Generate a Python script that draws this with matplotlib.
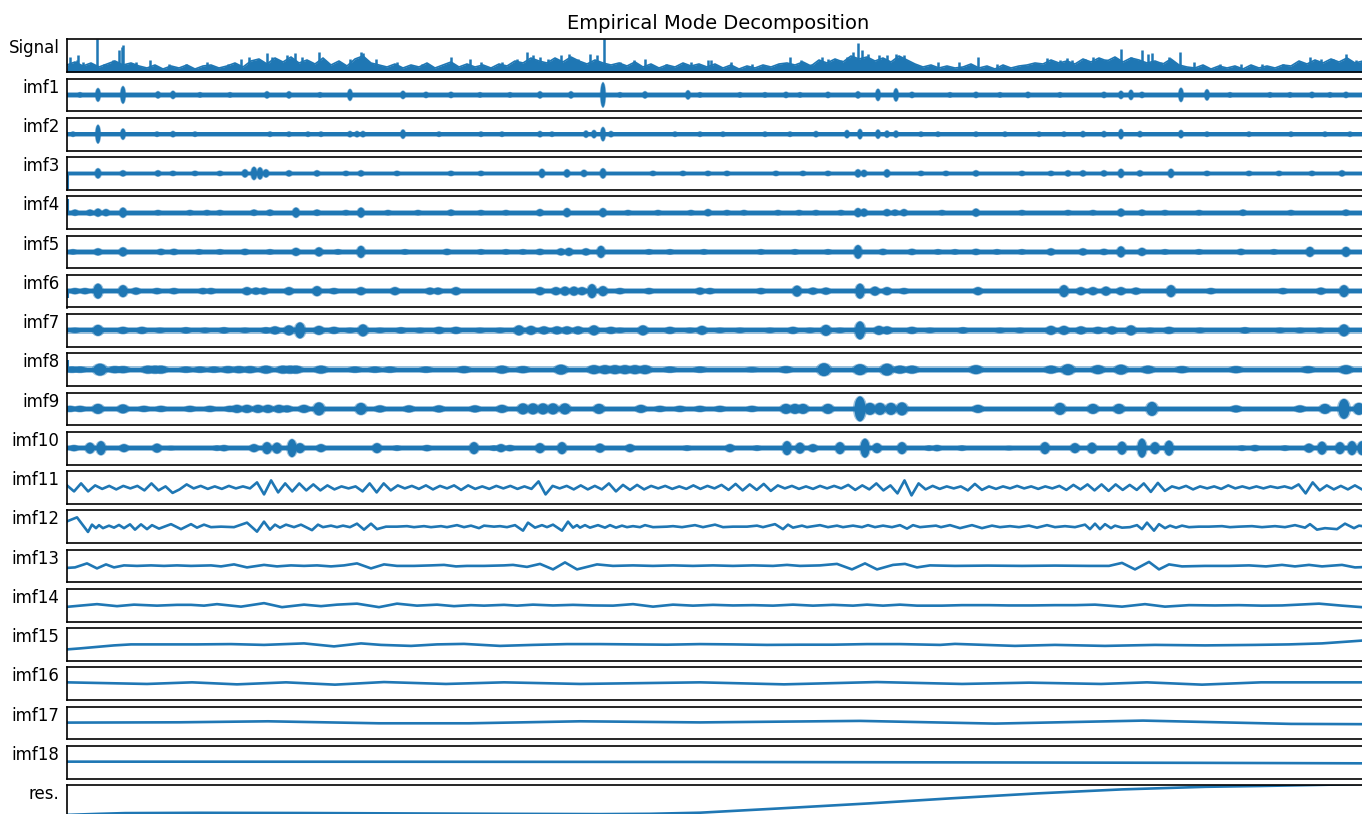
import numpy as np
import matplotlib.pyplot as plt
from matplotlib.patches import Ellipse
from matplotlib.collections import PatchCollection

# =========================
# data
# x = pixel column of the sample, y = pixels about the row centre (up is +)
# =========================
t_start, t_end = 67, 1369

row_names = ["Signal"] + ["imf%d" % i for i in range(1, 19)] + ["res."]

# Signal: solid floor every 50 px, grass every 8 px, and the taller spikes
sig_floor_t = np.arange(67, 1368, 50)
sig_floor = [4, 5, 3, 4, 5, 5, 5, 3, 4, 5, 6, 4, 4, 3, 4, 5, 6, 4, 3, 3, 5, 6, 5, 3, 3, 5, 5]
sig_grass_t = np.arange(67, 1366, 8)
sig_grass = [7, 10, 6, 9, 5, 8, 11, 7, 9, 6,
             4, 7, 3, 6, 4, 7, 3, 6, 7, 4,
             6, 9, 5, 11, 13, 8, 14, 10, 15, 9,
             12, 8, 14, 7, 11, 6, 13, 16, 9, 7,
             5, 8, 4, 7, 5, 9, 4, 7, 10, 5,
             8, 5, 7, 4, 8, 6, 11, 9, 14, 11,
             9, 14, 10, 15, 11, 8, 12, 9, 7, 9,
             6, 10, 5, 8, 4, 7, 5, 9, 6, 8,
             5, 8, 4, 7, 3, 6, 4, 7, 5, 8,
             9, 7, 10, 6, 12, 9, 13, 10, 16, 13,
             15, 11, 14, 10, 16, 12, 8, 5, 7, 4,
             6, 4, 5, 8, 4, 6, 3, 7, 4, 6,
             7, 9, 8, 12, 9, 11, 8, 13, 10, 14,
             11, 15, 10, 14, 12, 9, 11, 8, 13, 7,
             5, 4, 7, 3, 6, 4, 6, 3, 7, 4,
             6, 4, 7, 6, 11, 8, 12, 9, 13, 10,
             14, 9, 11]
sig_spikes = [(70, 15), (77, 12), (78, 17), (83, 10), (97, 33), (104, 8), (113, 12), (119, 22),
              (122, 25), (123, 27), (136, 10), (150, 12), (169, 8), (186, 8), (207, 10), (228, 8),
              (241, 13), (249, 15), (267, 19), (272, 15), (287, 17), (295, 19), (302, 15), (319, 20),
              (329, 8), (350, 13), (361, 20), (363, 19), (376, 13), (397, 10), (422, 8), (451, 15),
              (470, 13), (481, 10), (502, 10), (517, 13), (527, 20), (533, 17), (540, 15), (548, 13),
              (561, 17), (569, 18), (578, 13), (590, 18), (597, 17), (604, 33), (620, 10), (634, 12),
              (645, 13), (666, 8), (691, 10), (708, 12), (711, 12), (731, 10), (752, 8), (778, 8),
              (790, 15), (801, 12), (811, 8), (822, 15), (828, 13), (841, 12), (847, 15), (853, 20),
              (858, 29), (862, 22), (868, 18), (879, 17), (887, 17), (896, 18), (904, 17), (912, 8),
              (938, 10), (959, 10), (978, 15), (997, 8), (1022, 7), (1047, 14), (1060, 12), (1067, 14),
              (1072, 12), (1085, 13), (1093, 15), (1106, 13), (1121, 23), (1131, 15), (1142, 22),
              (1148, 18), (1152, 19), (1161, 10), (1169, 15), (1180, 20), (1194, 10), (1220, 8),
              (1241, 8), (1262, 8), (1283, 8), (1310, 15), (1321, 13), (1333, 13), (1346, 18), (1356, 12)]

# dense modes: (position, half height) of the visible bursts
imf1_bursts = [(80, 2.5), (98, 6.7), (123, 8.7), (158, 3.5), (173, 4), (200, 2.5), (230, 2.5),
               (267, 3.5), (289, 3.5), (320, 2.5), (350, 5.8), (403, 4), (426, 3), (451, 3),
               (480, 2.5), (510, 2.5), (540, 3.5), (571, 3.5), (603, 12.5), (620, 2.5), (645, 3.5),
               (688, 4.5), (700, 2.5), (740, 2.5), (765, 2.5), (786, 3), (800, 2.5), (828, 3),
               (858, 3.5), (878, 6), (896, 6.5), (912, 3), (950, 2.5), (976, 3), (1000, 2.5),
               (1028, 3), (1060, 2.5), (1104, 3), (1121, 4), (1131, 5), (1142, 3), (1181, 7),
               (1207, 5.5), (1230, 2.5), (1270, 2.5), (1290, 2.5), (1312, 3), (1330, 2.5), (1346, 3)]
imf2_bursts = [(73, 2.5), (98, 9.3), (123, 5.5), (157, 2.5), (173, 3), (195, 2.5), (270, 2.5),
               (289, 2.5), (308, 2.5), (321, 2.5), (350, 3), (357, 3), (363, 3), (403, 4.5),
               (439, 2.5), (481, 2.5), (502, 2.5), (540, 3), (552, 2.5), (586, 3.5), (594, 4),
               (603, 7), (611, 3), (675, 2.5), (700, 2.5), (723, 2.5), (765, 2.5), (790, 2.5),
               (816, 3), (847, 4), (860, 5), (878, 4.5), (887, 3.5), (896, 3.5), (921, 2.5),
               (938, 2.5), (976, 2.5), (1005, 2.5), (1039, 2.5), (1064, 2.5), (1083, 3), (1104, 3),
               (1121, 5), (1140, 3), (1181, 4), (1207, 2.5), (1249, 2.5), (1291, 2.5), (1325, 2.5),
               (1350, 2.5)]
imf3_bursts = [(98, 5), (123, 3), (158, 3), (173, 2.5), (195, 2.5), (220, 2.5), (245, 4),
               (254, 6.5), (260, 6), (266, 4), (289, 3), (317, 3), (346, 2.5), (361, 3), (397, 2.5),
               (451, 2.5), (481, 2.5), (542, 4.5), (567, 4), (584, 3.5), (603, 5), (653, 2.5),
               (683, 2.5), (708, 2.5), (727, 2.5), (776, 2.5), (803, 2.5), (828, 2.5), (858, 4),
               (864, 3.5), (887, 4), (921, 2.5), (946, 2.5), (976, 3), (1022, 2.5), (1051, 2.5),
               (1068, 3), (1083, 3), (1104, 3), (1121, 4.5), (1140, 3), (1171, 4.5), (1207, 2.5),
               (1249, 2.5), (1279, 2.5), (1312, 2.5), (1342, 3)]
imf4_bursts = [(75, 3), (90, 3), (98, 4), (106, 3.5), (123, 5), (158, 2.5), (190, 2.5), (207, 2.5),
               (220, 2.5), (254, 3), (270, 3), (296, 5), (317, 3), (346, 2.5), (361, 5), (388, 2.5),
               (418, 2.5), (451, 3), (481, 2.5), (506, 2.5), (540, 3.5), (567, 4.5), (603, 4.5),
               (628, 2.5), (658, 2.5), (691, 2.5), (708, 3.5), (727, 2.5), (744, 2.5), (778, 2.5),
               (799, 2.5), (816, 2.5), (841, 2.5), (858, 4.5), (864, 4), (887, 3.5), (895, 3),
               (904, 3.5), (942, 2.5), (976, 4), (1022, 2.5), (1068, 2.5), (1093, 2.5), (1121, 4),
               (1142, 3), (1165, 2.5), (1199, 2.5), (1243, 3), (1291, 2.5), (1346, 3)]
imf5_bursts = [(73, 2.5), (98, 3.5), (123, 4.5), (161, 3), (174, 3), (199, 2.5), (220, 2.5),
               (245, 3), (270, 2.5), (296, 4), (319, 4.5), (338, 2.5), (361, 6), (405, 2.5),
               (447, 3), (481, 2.5), (506, 2.5), (523, 2.5), (540, 3), (561, 3.5), (569, 4),
               (586, 3.5), (601, 6), (649, 2.5), (670, 2.5), (704, 2.5), (761, 2.5), (795, 2.5),
               (828, 2.5), (858, 6.8), (883, 3), (912, 3), (938, 2.5), (955, 2.5), (976, 3),
               (997, 2.5), (1022, 2.5), (1051, 3.5), (1083, 3.5), (1104, 3), (1121, 5.5), (1142, 4),
               (1165, 2.5), (1199, 2.5), (1241, 3), (1274, 2.5), (1310, 5), (1346, 5)]
imf6_bursts = [(75, 3), (85, 3), (98, 7.5), (123, 6), (136, 3.5), (157, 3), (174, 3), (203, 3),
               (211, 3), (247, 4), (256, 3.5), (264, 3.5), (289, 4), (317, 5), (334, 3), (361, 4),
               (395, 4), (430, 3.5), (438, 3.5), (456, 4), (540, 4), (556, 4), (565, 4.5), (574, 4.5),
               (582, 4), (592, 7), (603, 5), (620, 3), (649, 3), (700, 3.5), (710, 3), (761, 3),
               (797, 5.5), (813, 3.5), (826, 3.5), (860, 7.5), (875, 4.5), (887, 4), (904, 3),
               (978, 4), (1064, 6), (1081, 4), (1093, 4), (1106, 4.5), (1121, 4), (1136, 3.5),
               (1171, 6), (1211, 3), (1283, 3), (1321, 3.5), (1344, 6)]
imf7_bursts = [(75, 2.5), (98, 5.5), (123, 3.5), (142, 3.5), (160, 2.5), (186, 3), (205, 2.5),
               (224, 3), (245, 2.5), (266, 3), (275, 4), (289, 5), (300, 8), (319, 4.5), (334, 3.5),
               (350, 2.5), (363, 6), (380, 2.5), (401, 3), (420, 2.5), (439, 3.5), (456, 3.5),
               (480, 2.5), (500, 2.5), (519, 5), (531, 4.5), (544, 4), (557, 4), (567, 4), (578, 4),
               (594, 5), (611, 3.5), (620, 2.5), (643, 5), (670, 3.5), (690, 2.5), (702, 4.5),
               (720, 2.5), (740, 2.5), (770, 2.5), (793, 3.5), (810, 2.5), (826, 5.5), (840, 2.5),
               (860, 9), (879, 4.5), (887, 4), (912, 3.5), (930, 2.5), (963, 3), (1000, 2.5),
               (1020, 2.5), (1051, 4.5), (1064, 4.5), (1081, 4), (1098, 3.5), (1112, 4), (1131, 5),
               (1150, 2.5), (1169, 3.5), (1200, 2.5), (1245, 3), (1280, 2.5), (1300, 2.5),
               (1320, 2.5), (1344, 6)]
imf8_bursts = [(72, 3), (80, 3), (100, 6), (115, 3.5), (123, 3.5), (148, 4), (155, 4), (161, 4),
               (186, 3), (200, 3), (214, 3), (228, 3.5), (239, 3.5), (250, 3.5), (266, 4), (283, 4),
               (290, 4), (296, 4), (321, 4), (355, 3), (375, 3), (390, 3), (426, 3), (464, 3.5),
               (502, 4), (523, 3.5), (561, 5), (594, 4.5), (605, 4.5), (615, 4.5), (625, 4.5),
               (635, 4.5), (645, 4.5), (670, 3), (700, 3), (752, 2.5), (786, 3.5), (824, 6.5),
               (860, 5.5), (887, 6), (900, 4), (912, 4), (976, 4.5), (1051, 4), (1068, 5.5),
               (1098, 4.5), (1121, 5), (1148, 4), (1182, 3.5), (1236, 3.5), (1308, 3.5), (1346, 4.5)]
imf9_bursts = [(70, 3), (80, 3), (98, 5), (123, 4.5), (144, 3), (161, 3), (190, 3), (210, 3),
               (230, 3), (237, 4), (247, 4), (258, 4), (268, 4), (279, 4), (287, 3.5), (304, 4),
               (319, 6.5), (361, 6), (380, 3.5), (409, 3.5), (439, 3.5), (475, 3.5), (502, 4),
               (523, 5.5), (533, 5.5), (543, 5.5), (553, 5.5), (565, 5.5), (599, 5), (641, 4),
               (660, 3), (680, 3), (700, 3), (720, 3), (752, 3), (786, 5), (795, 5), (803, 5),
               (828, 5), (860, 12.5), (870, 6), (880, 6), (891, 6), (902, 6.5), (978, 4),
               (1060, 6), (1093, 5), (1119, 5), (1152, 7), (1236, 3.5), (1300, 3.5), (1325, 5),
               (1344, 10), (1359, 6)]
imf10_bursts = [(74, 3), (90, 5.5), (101, 7), (124, 4), (157, 4.5), (171, 2), (217, 2.5), (224, 3),
                (254, 4), (267, 6), (277, 5.5), (292, 9), (300, 5), (321, 4), (377, 5), (397, 2.5),
                (427, 3), (474, 6), (494, 2.5), (501, 4), (510, 3), (540, 5), (562, 6), (600, 4.5),
                (630, 4), (687, 2.5), (730, 4), (757, 2.5), (787, 7), (800, 5.5), (813, 4), (840, 6),
                (865, 9.5), (877, 5), (902, 6), (929, 2.5), (937, 3), (962, 2.5), (1009, 2),
                (1045, 6), (1075, 5), (1092, 5.5), (1122, 6.5), (1142, 9.5), (1155, 6), (1169, 7.5),
                (1242, 2.5), (1255, 3), (1285, 2.5), (1309, 4.5), (1322, 6.5), (1340, 6), (1352, 7),
                (1362, 7)]

# edge artefacts at the very first sample
edge_rows = ["imf3", "imf4", "imf6", "imf8"]
edge_vals = [-16, 14, -7, 10]

# imf11: alternating extrema, evenly spaced samples
imf11_vals = [2, -4, 4, -4, 2, -1.5, 1.5, -2, 1.5, -1, 1.5, -3, 4, -3, 1, -5.5, -2, 3,
              -1, 1.5, -1.5, 1, -1.5, 1.5, -1, 1, -1, 5, -7, 7, -5, 4, -4, 4, -3, 3, -3, 2, -2,
              1, -1, 1, -4, 4, -5, 4, -3, 2, -1, 1.5, -1.5, 2, -2, 1.5, -1, 2, -2.5, 2, -1.5, 1,
              -1.5, 1.5, -1,
              1.5, -1.5, 1, -1.5, 6, -7, 1.5, -1, 1.5, -2, 2, -2, 1.5, -2, 4, -4, 2.5, -2.5, 2.5,
              -2, 1.5, -1, 1.5, -1.5, 1, -1.5, 2, -1.5, 1.5, -1, 2.5, -2.5, 3.5, -3, 3, -2.5, 3.5,
              -3.5, 2, -1, 1.5, -1.5, 1, -1.5, 1.5, -1, 1.5, -1, 2.5, -2.5, 2, -2, 4, -3, 2, -6,
              7, -8, 4, -2, 1.5, -1.5,
              1, -1, 1, -3, 3.5, -2.5, 1, -1.5, 1, -1, 1.5, -1, 1, -1.5, 1, -1, 1.5, -2.5, 2.5,
              -2, 3, -3, 3, -3.5, 3, -2.5, 2.5, -2.5, 4, -4.5, 4.5, -3.5, 1, -1, 1.5, -2, 1, -1,
              1, -1.5, 2, -1, 1, -1, 1, -1, 1, -0.5, 1, -1, 3, -6, 5, -3, 2, -2, 1.5, -2, 2, -2,
              1.5]

# slower modes: (position, value) of turning points
imf12_pts = [(67, 5.3), (77, 9.3), (88, -5.3), (92, 2), (96, -1.5), (99, 1.5), (103, -1.5),
             (109, 1), (114, -1), (119, 1.7), (124, -1.5), (130, 2.3), (135, -3), (141, 2.3),
             (147, -2.5), (152, 1.5), (159, -2), (171, 2.5), (181, -2.5), (191, 2.5), (197, -1),
             (204, 2), (211, -0.5), (221, 0), (234, -0.5), (247, 4), (257, -5), (264, 5), (270, -3),
             (275, 2), (280, -1), (286, 2), (294, -0.5), (301, 2), (312, -3.5), (318, 2), (323, -0.5),
             (331, 1), (337, -0.5), (343, 1), (350, -0.5), (357, 3), (364, -3), (371, 3), (377, -2.5),
             (386, 0), (397, 0), (407, 0.5), (414, -0.5), (424, 0.5), (431, -0.5), (441, 0.5),
             (447, -0.5), (457, 1.5), (464, -0.5), (471, 1), (479, -1.5), (484, 1), (494, 0),
             (500, 0.5), (507, -0.5), (515, 1.5), (523, -4), (528, 4), (535, -1), (542, 1.5),
             (547, -0.5), (553, 2), (562, -4), (568, 5), (573, -1), (577, 1.5), (580, -1), (585, 1.5),
             (590, -1), (598, 1.5), (605, -1), (610, 1.5), (616, -1), (622, 1), (627, -0.5),
             (633, 0.5), (640, -0.5), (645, 1.5), (653, -0.5), (667, 0), (673, 0.5), (682, -0.5),
             (695, 1.5), (703, -0.5), (715, 2), (723, -0.5), (733, 0), (747, 0), (757, 1), (763, -0.5),
             (775, 2.5), (783, -2.5), (788, 2), (793, -1), (802, 1), (807, -0.5), (820, 1.5),
             (828, -0.5), (837, 1), (843, -0.5), (853, 1), (862, -0.5), (868, 1.5), (875, -0.5),
             (883, 1), (892, -0.5), (900, 1.5), (907, -2), (913, 1.5), (920, -0.5), (930, 0.5),
             (936, 1), (941, -0.5), (950, 1.5), (960, -1.5), (972, 1.5), (982, -1.5), (992, 1),
             (1000, -0.5), (1010, 0.5), (1019, -0.5), (1029, 1), (1037, -1), (1047, 1.5),
             (1055, -0.5), (1065, 0.5), (1075, -0.5), (1085, 2), (1090, -2.5), (1095, 3),
             (1100, -2.5), (1105, 2.5), (1111, -1.5), (1115, 1), (1122, -1), (1130, -0.5), (1137, 1.5),
             (1142, -2.5), (1147, 4), (1154, -4), (1159, 2.5), (1165, -1.5), (1170, 1), (1176, -1),
             (1182, 1), (1189, -0.5), (1199, 0), (1209, 0), (1222, 0.5), (1230, -0.5), (1239, 0),
             (1252, 0.5), (1262, -0.5), (1275, 0.5), (1285, -0.5), (1295, 1.5), (1305, -1),
             (1310, 2.5), (1317, -3), (1325, -1.5), (1337, -2.5), (1345, 3), (1354, -1.5),
             (1359, 1), (1369, -0.5)]
imf13_pts = [(67, -2), (75, -1.5), (87, 2.5), (97, -2.5), (106, 1.5), (114, -1.5), (124, 0.5),
             (137, 0), (151, 0.5), (164, 0), (177, 0.5), (191, 0), (211, 0.5), (221, -0.5), (234, 1.5),
             (247, -1.5), (264, 1), (277, -0.5), (291, 0.5), (304, 0), (317, 0.5), (331, -0.5),
             (344, 0.5), (357, 2.5), (371, -2.5), (384, 1.5), (397, 0), (414, 0), (431, 0.5),
             (444, 1), (456, -0.5), (467, 0), (484, 0), (504, 0.5), (513, 1), (527, -1), (540, 2),
             (553, -3.5), (565, 3.5), (577, -3.5), (597, 1.5), (613, 0), (633, 0.5), (653, 0),
             (673, 0.5), (693, 0), (713, 0.5), (733, 0), (753, 0.5), (773, 0), (787, 1), (800, 0),
             (820, 0.5), (837, 2), (852, -3.5), (865, 2.5), (877, -3.5), (893, 1), (905, 2),
             (917, -1.5), (930, 0.5), (955, 0), (988, 0.3), (1022, 0), (1055, 0.3), (1089, 0),
             (1109, 0), (1122, 3), (1135, -3.5), (1149, 4), (1159, -3.5), (1169, 1.5), (1182, -0.5),
             (1205, 0), (1229, 0), (1249, 0.5), (1266, -0.5), (1282, 1), (1295, -0.5), (1309, 1),
             (1322, -0.5), (1342, 1), (1355, -1.5), (1369, -1)]
imf14_pts = [(67, -1.7), (80, -0.5), (97, 1), (117, -1), (134, 0.5), (157, -0.5), (177, 0.3),
             (191, 0.3), (204, -0.5), (217, 1), (241, -1.5), (264, 2), (282, -2), (304, 0.5),
             (321, -1), (337, 0.5), (357, 1.5), (379, -2), (397, 1.5), (417, -0.5), (437, 0.5),
             (454, -1), (471, 0), (484, -0.5), (504, 0.3), (517, -0.5), (533, 0.5), (553, -0.3),
             (573, 0.3), (593, -0.3), (613, -0.5), (633, 1), (653, -1.5), (673, 0.5), (693, -0.5),
             (713, 0.3), (733, -0.3), (753, 0), (773, -0.5), (793, 0.5), (813, -0.5), (833, 0.3),
             (853, -0.5), (867, 0.5), (883, -0.5), (900, 0.5), (917, -0.5), (942, -0.5), (962, 0),
             (989, 0), (1009, -0.3), (1032, -0.3), (1055, 0), (1075, 0), (1095, 0.5), (1122, -1.5),
             (1145, 1), (1165, -1.5), (1189, 0), (1215, -0.3), (1239, 0), (1262, -0.5), (1282, -0.3),
             (1319, 1.5), (1342, -0.5), (1362, -2), (1369, -2)]
imf15_pts = [(67, -5), (80, -4), (97, -2.5), (114, -1), (131, 0), (164, 0), (197, 0), (231, 0.3),
             (264, -0.5), (304, 1), (334, -2), (361, 1), (381, -0.5), (411, -1.5), (437, 0),
             (464, 0.5), (500, -1.5), (533, -0.5), (567, 0.3), (600, 0.3), (633, 0), (667, -0.3),
             (700, 0.3), (733, 0), (767, -0.5), (800, -0.3), (833, -0.3), (867, 0.3), (900, 0.3),
             (940, -0.5), (955, 0.5), (1015, -1.5), (1055, -0.5), (1105, -1.5), (1155, -0.5),
             (1205, -1), (1255, -0.5), (1289, 0), (1322, 1), (1362, 3.8), (1369, 4)]
imf16_pts = [(67, 1.3), (147, -0.3), (192, 1.3), (237, -0.7), (286, 1.3), (335, -1), (384, 1.6),
             (446, -0.3), (504, 1.3), (580, -0.3), (647, 0.6), (700, 1.3), (784, -0.7), (877, 1.6),
             (962, -0.3), (1029, 1), (1101, -0.3), (1147, 1.3), (1202, -1), (1261, 1.3), (1369, 1.3)]
imf17_pts = [(67, 0.3), (179, 0.6), (268, 1.6), (379, -0.4), (469, -0.4), (580, 1.6), (700, 0.5),
             (860, 2), (995, -0.7), (1143, 2.3), (1291, -1), (1369, -1.3)]
imf18_pts = [(67, 0.5), (400, 0.4), (700, 0.2), (1000, -0.3), (1200, -0.7), (1369, -1.2)]
res_pts = [(67, -13.5), (100, -12.4), (125, -11.7), (200, -11.4), (300, -11.6), (400, -12.0),
           (500, -12.4), (600, -12.7), (650, -12.4), (700, -11.3), (780, -7.0), (869, -2.0),
           (950, 3.0), (1037, 8.0), (1122, 12.0), (1206, 14.6), (1260, 15.4), (1313, 16.4),
           (1369, 17.5)]

# =========================
# layout (pixels of the 1362 x 814 picture)
# =========================
W, H, DPI = 1362, 814, 100
left_px, right_px = 66.7, 1369.3
top0_px, step_px, row_h_px = 39.3, 39.25, 32.7
blue = "#1f77b4"

# bursts, core half width, halo half width, blob width
burst_rows = {"imf1": (imf1_bursts, 1.7, 2.6, 5), "imf2": (imf2_bursts, 1.7, 2.6, 5),
              "imf3": (imf3_bursts, 1.8, 2.7, 6), "imf4": (imf4_bursts, 1.9, 2.9, 7),
              "imf5": (imf5_bursts, 1.9, 2.9, 8), "imf6": (imf6_bursts, 2.0, 3.0, 9),
              "imf7": (imf7_bursts, 2.0, 3.1, 10), "imf8": (imf8_bursts, 2.1, 3.2, 13),
              "imf9": (imf9_bursts, 2.1, 3.2, 11), "imf10": (imf10_bursts, 2.0, 3.0, 9)}
wave_rows = {"imf12": imf12_pts, "imf13": imf13_pts, "imf14": imf14_pts, "imf15": imf15_pts,
             "imf16": imf16_pts, "imf17": imf17_pts, "imf18": imf18_pts, "res.": res_pts}

fig = plt.figure(figsize=(W / DPI, H / DPI), dpi=DPI)

for i, name in enumerate(row_names):
    top = top0_px + i * step_px
    ax = fig.add_axes([left_px / W, 1 - (top + row_h_px) / H,
                       (right_px - left_px) / W, row_h_px / H])
    ax.set_xlim(left_px, right_px)
    ax.set_xticks([])
    ax.set_yticks([])
    for sp in ax.spines.values():
        sp.set_linewidth(1.2)

    if name == "Signal":
        ax.set_ylim(0, row_h_px)
        ax.fill_between(sig_floor_t, 0, sig_floor, color=blue, lw=0)
        ax.fill_between(sig_grass_t, 0, sig_grass, color=blue, lw=0)
        ax.plot(sig_grass_t, sig_grass, color=blue, lw=1.2)
        st, sh = zip(*sig_spikes)
        ax.vlines(st, 0, sh, color=blue, lw=1.8)
        ax.set_title("Empirical Mode Decomposition", fontsize=14, pad=7.5)
    else:
        ax.set_ylim(-row_h_px / 2, row_h_px / 2)

    if name in burst_rows:
        bursts, core, halo, bw = burst_rows[name]
        ax.fill_between([t_start, t_end], -halo, halo, color=blue, alpha=0.45, lw=0)
        ax.fill_between([t_start, t_end], -core, core, color=blue, lw=0)
        halos = [Ellipse((bx, 0), bw * 1.3, 2 * amp + 1.2) for bx, amp in bursts]
        ax.add_collection(PatchCollection(halos, facecolor=blue, edgecolor="none", alpha=0.45))
        blobs = [Ellipse((bx, 0), bw, 2 * amp) for bx, amp in bursts]
        ax.add_collection(PatchCollection(blobs, facecolor=blue, edgecolor="none"))
        if name in edge_rows:
            ax.vlines(t_start + 0.8, 0, edge_vals[edge_rows.index(name)], color=blue, lw=1.5)
    elif name == "imf11":
        ax.plot(np.linspace(t_start, t_end, len(imf11_vals)), imf11_vals, color=blue, lw=1.9)
    elif name in wave_rows:
        wt, wy = zip(*wave_rows[name])
        ax.plot(wt, wy, color=blue, lw=1.9)

    fig.text(59.5 / W, 1 - top / H, name, ha="right", va="top", fontsize=12)

fig.savefig("out.png", dpi=DPI)
